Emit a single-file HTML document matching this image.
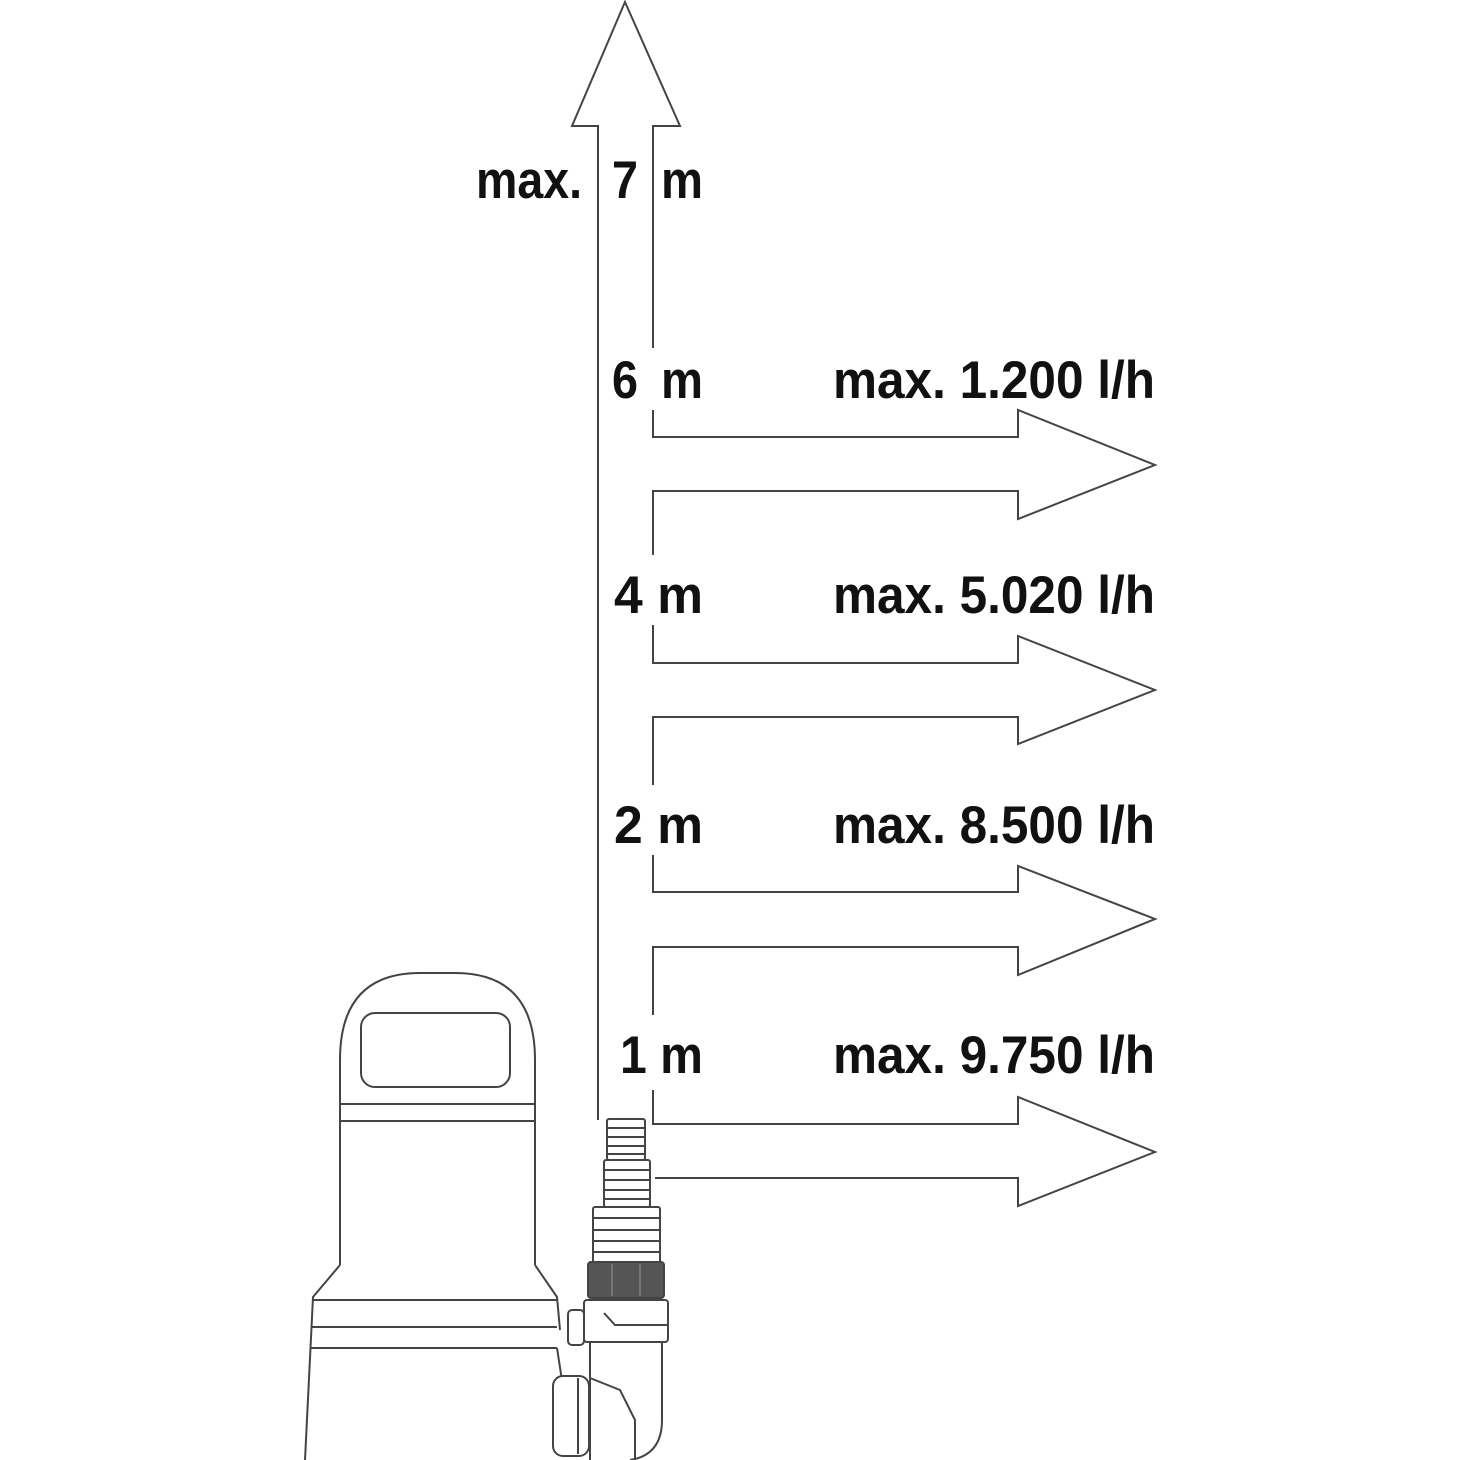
<!DOCTYPE html>
<html><head><meta charset="utf-8"><style>
html,body{margin:0;padding:0;background:#fff;}
svg{display:block;}
text{font-family:"Liberation Sans",sans-serif;font-weight:bold;fill:#111;}
</style></head><body>
<svg width="1460" height="1460" viewBox="0 0 1460 1460" xmlns="http://www.w3.org/2000/svg">
<g fill="none" stroke="#444" stroke-width="2">
<!-- up arrow -->
<polyline points="598,1120 598,126 572,126 625,2 680,126 653,126 653,348"/>
<!-- arrow 1 -->
<polyline points="653,410 653,437 1018,437 1018,410 1155,465 1018,519 1018,491 653,491 653,555"/>
<!-- arrow 2 -->
<polyline points="653,625 653,663 1018,663 1018,636 1155,690 1018,744 1018,717 653,717 653,785"/>
<!-- arrow 3 -->
<polyline points="653,855 653,892 1018,892 1018,866 1155,919 1018,975 1018,947 653,947 653,1015"/>
<!-- arrow 4 -->
<polyline points="653,1090 653,1124 1018,1124 1018,1097 1155,1152 1018,1206 1018,1178 655,1178"/>
<!-- pump body -->
<path d="M340,1265 L340,1060 Q340,973 420,973 L455,973 Q535,973 535,1060 L535,1265"/>
<rect x="361" y="1013" width="149" height="74" rx="14"/>
<line x1="340" y1="1104" x2="535" y2="1104"/>
<line x1="340" y1="1121" x2="535" y2="1121"/>
<path d="M340,1265 L313,1297 L305,1460"/>
<path d="M535,1265 L557,1297 L560,1330"/>
<line x1="313" y1="1300" x2="557" y2="1300"/>
<line x1="312" y1="1327" x2="557" y2="1327"/>
<line x1="311" y1="1348" x2="557" y2="1348"/>
<line x1="557" y1="1348" x2="565" y2="1400"/>
<!-- nozzle -->
<rect x="607" y="1119" width="38" height="41" rx="2"/>
<line x1="607" y1="1128" x2="645" y2="1128"/><line x1="607" y1="1137" x2="645" y2="1137"/><line x1="607" y1="1146" x2="645" y2="1146"/><line x1="607" y1="1154" x2="645" y2="1154"/>
<rect x="604" y="1160" width="46" height="47" rx="2"/>
<line x1="604" y1="1170" x2="650" y2="1170"/><line x1="604" y1="1180" x2="650" y2="1180"/><line x1="604" y1="1190" x2="650" y2="1190"/><line x1="604" y1="1199" x2="650" y2="1199"/>
<rect x="593" y="1207" width="67" height="56" rx="2"/>
<line x1="593" y1="1218" x2="660" y2="1218"/><line x1="593" y1="1230" x2="660" y2="1230"/><line x1="593" y1="1241" x2="660" y2="1241"/><line x1="593" y1="1252" x2="660" y2="1252"/>
<rect x="588" y="1262" width="76" height="36" rx="3" fill="#555"/>
<line x1="612" y1="1264" x2="612" y2="1296" stroke="#777"/><line x1="640" y1="1264" x2="640" y2="1296" stroke="#777"/>
<rect x="584" y="1300" width="84" height="42" rx="3" fill="#fff"/>
<polyline points="604,1313 615,1325 668,1325"/>
<rect x="568" y="1310" width="16" height="35" rx="4"/>
<path d="M590,1342 L590,1460 M662,1342 L662,1420 Q662,1455 630,1460"/>
<path d="M590,1378 L620,1390 L635,1420 L635,1460"/>
<rect x="553" y="1376" width="36" height="80" rx="10" fill="#fff"/>
<line x1="578" y1="1378" x2="578" y2="1454"/>
</g>
<g font-size="53">
<text x="476" y="198" textLength="106" lengthAdjust="spacingAndGlyphs">max.</text>
<text x="612" y="198" textLength="26" lengthAdjust="spacingAndGlyphs">7</text>
<text x="661" y="198" textLength="42" lengthAdjust="spacingAndGlyphs">m</text>
<text x="612" y="398" textLength="26" lengthAdjust="spacingAndGlyphs">6</text>
<text x="661" y="398" textLength="42" lengthAdjust="spacingAndGlyphs">m</text>
<text x="614" y="613" textLength="89" lengthAdjust="spacingAndGlyphs">4 m</text>
<text x="614" y="843" textLength="89" lengthAdjust="spacingAndGlyphs">2 m</text>
<text x="620" y="1073" textLength="83" lengthAdjust="spacingAndGlyphs">1 m</text>
<text x="833" y="398" textLength="322" lengthAdjust="spacingAndGlyphs">max. 1.200 l/h</text>
<text x="833" y="613" textLength="322" lengthAdjust="spacingAndGlyphs">max. 5.020 l/h</text>
<text x="833" y="843" textLength="322" lengthAdjust="spacingAndGlyphs">max. 8.500 l/h</text>
<text x="833" y="1073" textLength="322" lengthAdjust="spacingAndGlyphs">max. 9.750 l/h</text>
</g>
</svg>
</body></html>
